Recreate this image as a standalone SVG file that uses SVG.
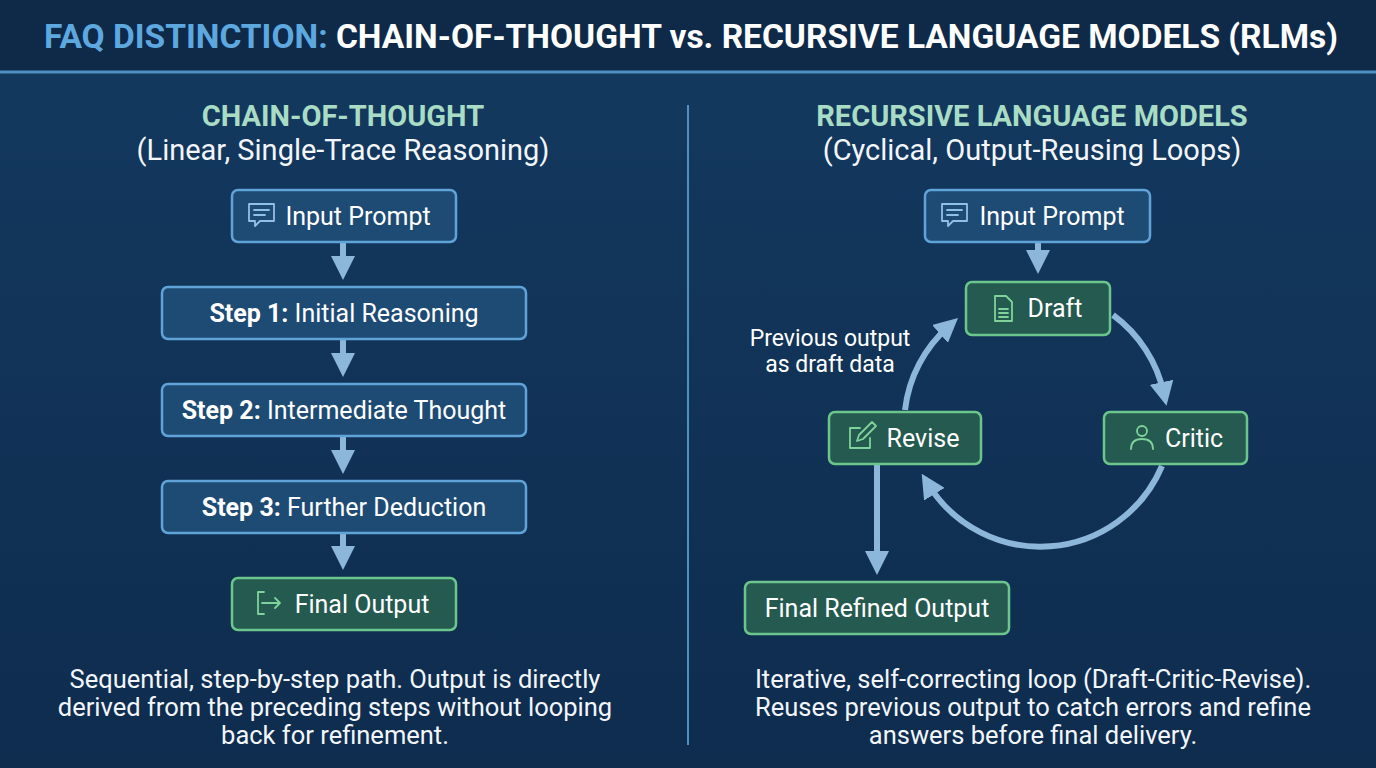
<svg xmlns="http://www.w3.org/2000/svg" width="1376" height="768" viewBox="0 0 1376 768">
<defs>
<linearGradient id="bg" x1="0" y1="0" x2="0" y2="1"><stop offset="0" stop-color="#143a60"/><stop offset="1" stop-color="#0e2c4e"/></linearGradient>
<marker id="ah" markerWidth="4" markerHeight="4" refX="2" refY="2" orient="auto" markerUnits="strokeWidth"><path d="M0,0 L4,2 L0,4 Z" fill="#8cb6da"/></marker>
<style>
text{font-family:Roboto,"Liberation Sans",sans-serif;fill:#fff}
.blue{fill:#1e4b74;stroke:#5fa3d8;stroke-width:2.5}
.green{fill:#245a50;stroke:#6cc68c;stroke-width:2.5}
.lbl{font-size:25px;text-anchor:middle}
.b{font-weight:bold}
.con{fill:none;stroke:#8cb6da;stroke-width:6}
.ic{fill:none;stroke:#8fc0e8;stroke-width:1.8;stroke-linejoin:round;stroke-linecap:round}
.icg{fill:none;stroke:#7fd39a;stroke-width:1.8;stroke-linejoin:round;stroke-linecap:round}
.sec{font-size:29px;font-weight:bold;fill:#a9dcc4;text-anchor:middle}
.sub{font-size:29px;text-anchor:middle;fill:#f2f6fa}
.desc{font-size:25.5px;text-anchor:middle;fill:#f2f6fa}
</style>
</defs>
<rect width="1376" height="768" fill="url(#bg)"/>
<rect width="1376" height="72" fill="#0f2a48"/>
<line x1="0" y1="72" x2="1376" y2="72" stroke="#4f8fc4" stroke-width="3"/>
<text x="691" y="48" font-size="33.5" font-weight="bold" text-anchor="middle"><tspan fill="#5ea8e0">FAQ DISTINCTION:</tspan> CHAIN-OF-THOUGHT vs. RECURSIVE LANGUAGE MODELS (RLMs)</text>
<line x1="688" y1="105" x2="688" y2="745" stroke="#4f8fc4" stroke-width="2"/>
<text class="sec" x="343" y="126">CHAIN-OF-THOUGHT</text>
<text class="sub" x="343" y="160">(Linear, Single-Trace Reasoning)</text>
<text class="sec" x="1032" y="126">RECURSIVE LANGUAGE MODELS</text>
<text class="sub" x="1032" y="160">(Cyclical, Output-Reusing Loops)</text>

<g id="connectors">
<line class="con" x1="343" y1="243" x2="343" y2="268" marker-end="url(#ah)"/>
<line class="con" x1="343" y1="340" x2="343" y2="365" marker-end="url(#ah)"/>
<line class="con" x1="343" y1="437" x2="343" y2="462" marker-end="url(#ah)"/>
<line class="con" x1="343" y1="534" x2="343" y2="558" marker-end="url(#ah)"/>
<line class="con" x1="1038" y1="243" x2="1038" y2="262" marker-end="url(#ah)"/>
<path class="con" d="M1113 315 A132 132 0 0 1 1164 394" marker-end="url(#ah)"/>
<path class="con" d="M1162 466 A132 132 0 0 1 928 484" marker-end="url(#ah)"/>
<path class="con" d="M905 410 A132 132 0 0 1 949 326" marker-end="url(#ah)"/>
<line class="con" x1="877" y1="465" x2="877" y2="563" marker-end="url(#ah)"/>
</g>

<g id="l-input"><rect class="blue" x="232" y="190" width="224" height="52" rx="6"/>
<path class="ic" d="M249 204 h25 v17 h-14 l-5 5 v-5 h-6 z M254 210 h15 M254 215 h11"/>
<text class="lbl" x="358" y="225">Input Prompt</text></g>
<g id="l-step1"><rect class="blue" x="162" y="287" width="364" height="52" rx="6"/>
<text class="lbl" x="344" y="322"><tspan class="b">Step 1:</tspan> Initial Reasoning</text></g>
<g id="l-step2"><rect class="blue" x="162" y="384" width="364" height="52" rx="6"/>
<text class="lbl" x="344" y="419"><tspan class="b">Step 2:</tspan> Intermediate Thought</text></g>
<g id="l-step3"><rect class="blue" x="162" y="481" width="364" height="52" rx="6"/>
<text class="lbl" x="344" y="516"><tspan class="b">Step 3:</tspan> Further Deduction</text></g>
<g id="l-final"><rect class="green" x="232" y="578" width="224" height="52" rx="6"/>
<path class="icg" d="M264 592 h-6 v22 h6 M262 603 h18 M275 598 l5 5 -5 5"/>
<text class="lbl" x="362" y="613">Final Output</text></g>

<g id="r-input"><rect class="blue" x="925" y="190" width="225" height="52" rx="6"/>
<path class="ic" d="M942 204 h25 v17 h-14 l-5 5 v-5 h-6 z M947 210 h15 M947 215 h11"/>
<text class="lbl" x="1052" y="225">Input Prompt</text></g>
<g id="r-draft"><rect class="green" x="966" y="282" width="144" height="53" rx="6"/>
<path class="icg" d="M995 296 h11 l6 6 v19 h-17 z M999 309 h9 M999 313 h9 M999 317 h9"/>
<text class="lbl" x="1055" y="317">Draft</text></g>
<g id="r-critic"><rect class="green" x="1104" y="412" width="143" height="52" rx="6"/>
<circle class="icg" cx="1142" cy="431" r="5"/><path class="icg" d="M1131 449 q0 -10 11 -10 q11 0 11 10"/>
<text class="lbl" x="1194" y="447">Critic</text></g>
<g id="r-revise"><rect class="green" x="829" y="412" width="152" height="52" rx="6"/>
<path class="icg" d="M860 428 h-10 v20 h20 v-10 M857 441 l2 -6 13 -13 4 4 -13 13 z"/>
<text class="lbl" x="923" y="447">Revise</text></g>
<g id="r-final"><rect class="green" x="745" y="582" width="264" height="52" rx="6"/>
<text class="lbl" x="877" y="617">Final Refined Output</text></g>
<text x="830" y="346" font-size="23" text-anchor="middle">Previous output</text>
<text x="830" y="372" font-size="23" text-anchor="middle">as draft data</text>

<text class="desc" x="335" y="688">Sequential, step-by-step path. Output is directly</text>
<text class="desc" x="335" y="716">derived from the preceding steps without looping</text>
<text class="desc" x="335" y="744">back for refinement.</text>
<text class="desc" x="1033" y="688">Iterative, self-correcting loop (Draft-Critic-Revise).</text>
<text class="desc" x="1033" y="716">Reuses previous output to catch errors and refine</text>
<text class="desc" x="1033" y="744">answers before final delivery.</text>
</svg>
